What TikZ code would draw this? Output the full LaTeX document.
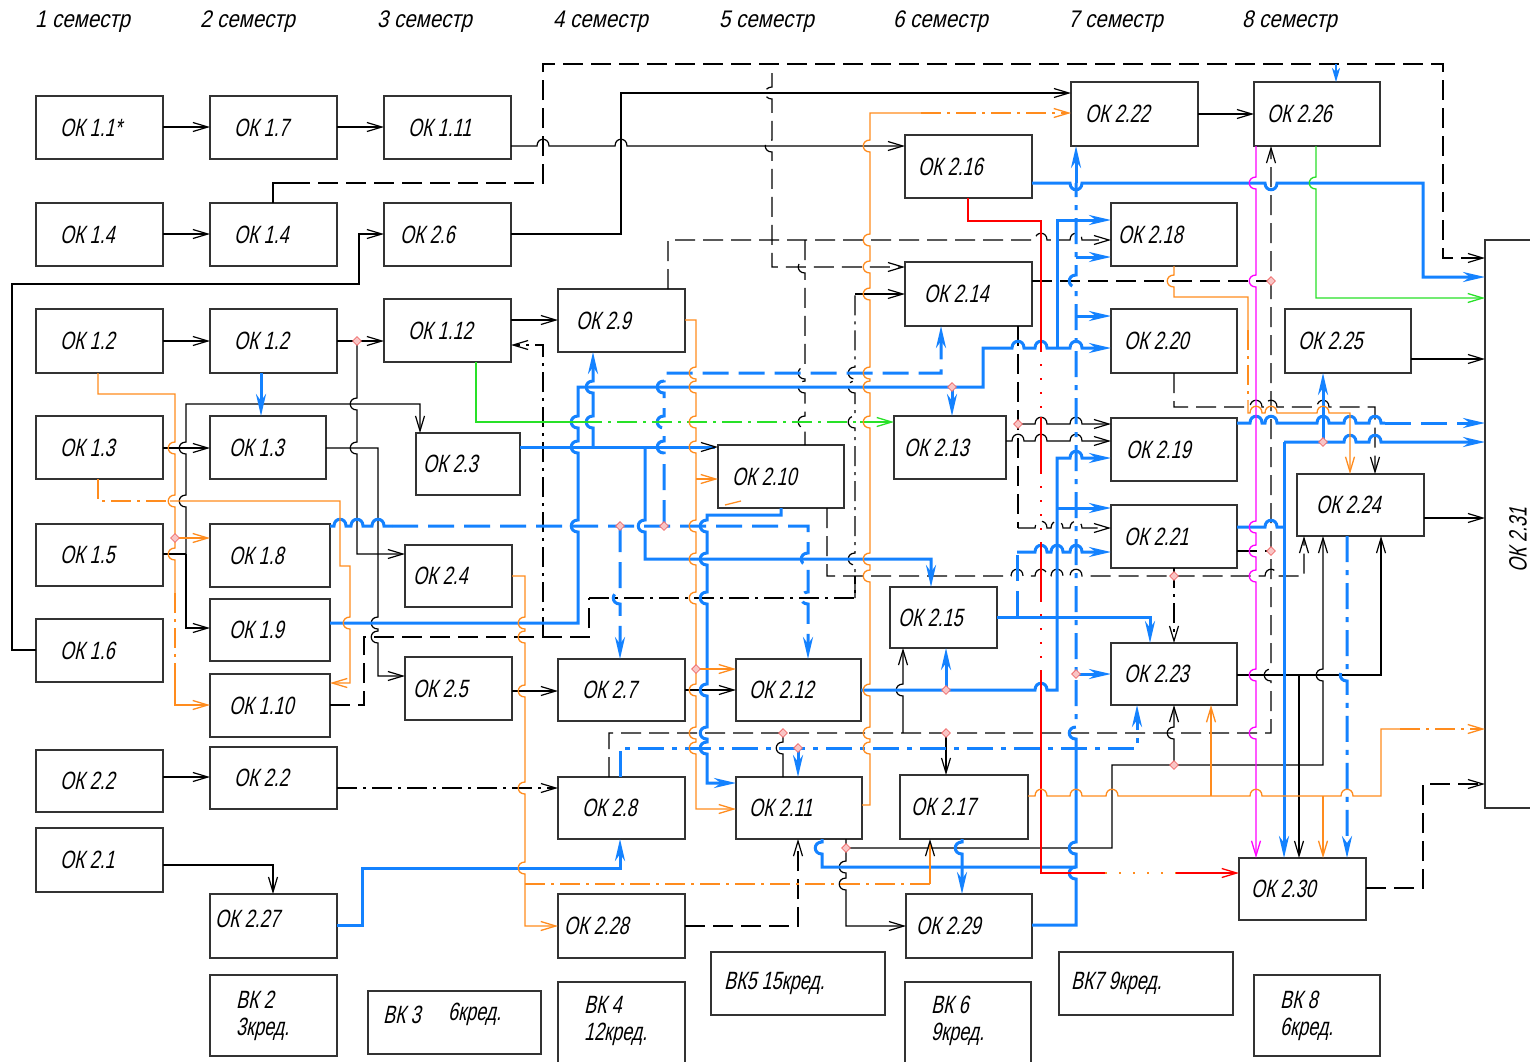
\documentclass[tikz,border=0pt]{standalone}
\usepackage{fontspec}
\newfontfamily\gostbox[FakeStretch=0.72,FakeSlant=0.22]{Liberation Sans}
\newfontfamily\gostsem[FakeStretch=0.85,FakeSlant=0.22]{Liberation Sans}
\usetikzlibrary{arrows.meta,shapes.geometric}
\definecolor{cblue}{RGB}{20,130,255}
\definecolor{corange}{RGB}{255,140,30}
\definecolor{cgreen}{RGB}{40,225,40}
\definecolor{cmag}{RGB}{255,0,255}
\definecolor{cred}{RGB}{255,0,0}
\definecolor{cdot}{RGB}{240,110,110}
\tikzset{
  box/.style={draw=black!80, line width=1.4pt, anchor=north west, inner sep=0pt, outer sep=0pt},
  lbl/.style={font={\gostbox\fontsize{25}{27}\selectfont}, anchor=west, inner sep=0pt, align=left},
  sem/.style={font={\gostsem\fontsize{24}{26}\selectfont}, anchor=west, inner sep=0pt},
  ln/.style={draw=black, line width=1.2pt},
  dsh/.style={dash pattern=on 20pt off 8pt},
  ddot/.style={dash pattern=on 20pt off 6pt on 3pt off 6pt},
  dotd/.style={dash pattern=on 2pt off 12pt},
  ar/.style={-{Straight Barb[length=15pt,width=9pt]}},
  kar/.style={-{Straight Barb[length=15pt,width=9pt,color=black,line width=1.2pt]}},
  bl/.style={draw=cblue, line width=3pt},
  bds/.style={dash pattern=on 26pt off 10pt},
  bdd/.style={dash pattern=on 26pt off 8pt on 5pt off 8pt},
  bar/.style={-{Stealth[length=22pt,width=10pt,inset=7pt]}},
  orl/.style={draw=corange, line width=1.3pt},
  mg/.style={draw=cmag, line width=1.3pt},
  gr/.style={draw=cgreen, line width=1.3pt},
  rdl/.style={draw=cred, line width=1.3pt},
  rdot/.style={diamond, draw=cdot, fill=cdot!40, line width=0.8pt, minimum size=9pt, inner sep=0pt},
  hr/.style 2 args={insert path={-- (#1-6,#2) .. controls (#1-6,#2-9) and (#1+6,#2-9) .. (#1+6,#2)}},
  hrd/.style 2 args={insert path={-- (#1-6,#2) .. controls (#1-6,#2+9) and (#1+6,#2+9) .. (#1+6,#2)}},
  hd/.style 2 args={insert path={-- (#1,#2-6) .. controls (#1-9,#2-6) and (#1-9,#2+6) .. (#1,#2+6)}},
  hu/.style 2 args={insert path={-- (#1,#2+6) .. controls (#1-9,#2+6) and (#1-9,#2-6) .. (#1,#2-6)}},
}
\newcommand\okb[7]{\node[box,minimum width=#4,minimum height=#5] (#1) at (#2,#3) {};
  \node[lbl] (#1t) at ([xshift=#6pt]#1.west) {#7};}
\newcommand\rdt[3]{\node[rdot] (#1) at (#2,#3) {};}
\begin{document}
\begin{tikzpicture}[x=1pt,y=-1pt]
\useasboundingbox (0,0) rectangle (1530,1061);
\fill[white] (0,0) rectangle (1530,1061);

% semester labels
\node[sem] (s1) at (35,22) {1 семестр};
\node[sem] (s2) at (200,22) {2 семестр};
\node[sem] (s3) at (377,22) {3 семестр};
\node[sem] (s4) at (553,22) {4 семестр};
\node[sem] (s5) at (719,22) {5 семестр};
\node[sem] (s6) at (893,22) {6 семестр};
\node[sem] (s7) at (1068,22) {7 семестр};
\node[sem] (s8) at (1242,22) {8 семестр};

% column 1
\okb{ok11s}{36}{96}{127}{63}{24}{ОК 1.1*}
\okb{ok14a}{36}{203}{127}{63}{24}{ОК 1.4}
\okb{ok12a}{36}{309}{127}{64}{24}{ОК 1.2}
\okb{ok13a}{36}{416}{127}{63}{24}{ОК 1.3}
\okb{ok15}{36}{524}{127}{62}{24}{ОК 1.5}
\okb{ok16}{36}{619}{127}{63}{24}{ОК 1.6}
\okb{ok22a}{36}{750}{127}{62}{24}{ОК 2.2}
\okb{ok21}{36}{828}{127}{64}{24}{ОК 2.1}
% column 2
\okb{ok17}{210}{96}{127}{63}{24}{ОК 1.7}
\okb{ok14b}{210}{203}{127}{63}{24}{ОК 1.4}
\okb{ok12b}{210}{309}{127}{64}{24}{ОК 1.2}
\okb{ok13b}{210}{416}{116}{63}{19}{ОК 1.3}
\okb{ok18}{210}{524}{120}{63}{19}{ОК 1.8}
\okb{ok19}{210}{599}{120}{62}{19}{ОК 1.9}
\okb{ok110}{210}{674}{120}{63}{19}{ОК 1.10}
\okb{ok22b}{210}{747}{127}{62}{24}{ОК 2.2}
\node[box,minimum width=127,minimum height=64] (ok227) at (210,894) {};
\node[lbl] (ok227t) at ([xshift=5pt,yshift=7pt]ok227.west) {ОК 2.27};
% column 3
\okb{ok111}{384}{96}{127}{63}{24}{ОК 1.11}
\okb{ok26}{384}{203}{127}{63}{16}{ОК 2.6}
\okb{ok112}{384}{299}{127}{63}{24}{ОК 1.12}
\okb{ok23}{416}{433}{104}{62}{7}{ОК 2.3}
\okb{ok24}{405}{545}{107}{62}{8}{ОК 2.4}
\okb{ok25}{405}{657}{107}{63}{8}{ОК 2.5}
% column 4
\okb{ok29}{558}{289}{127}{63}{18}{ОК 2.9}
\okb{ok27}{558}{659}{127}{62}{24}{ОК 2.7}
\okb{ok28}{558}{777}{127}{62}{24}{ОК 2.8}
\okb{ok228}{558}{894}{127}{64}{6}{ОК 2.28}
% column 5
\okb{ok210}{718}{445}{126}{63}{14}{ОК 2.10}
\okb{ok212}{736}{659}{125}{62}{13}{ОК 2.12}
\okb{ok211}{736}{777}{126}{62}{13}{ОК 2.11}
% column 6
\okb{ok216}{905}{135}{127}{63}{13}{ОК 2.16}
\okb{ok214}{905}{262}{127}{64}{19}{ОК 2.14}
\okb{ok213}{894}{416}{112}{63}{10}{ОК 2.13}
\okb{ok215}{890}{587}{107}{61}{8}{ОК 2.15}
\okb{ok217}{900}{775}{128}{64}{11}{ОК 2.17}
\okb{ok229}{906}{894}{126}{64}{10}{ОК 2.29}
% column 7
\okb{ok222}{1071}{82}{127}{64}{14}{ОК 2.22}
\okb{ok218}{1111}{203}{126}{63}{7}{ОК 2.18}
\okb{ok220}{1111}{309}{126}{64}{13}{ОК 2.20}
\okb{ok219}{1111}{418}{126}{63}{15}{ОК 2.19}
\okb{ok221}{1111}{505}{126}{63}{13}{ОК 2.21}
\okb{ok223}{1111}{643}{126}{62}{13}{ОК 2.23}
% column 8
\okb{ok226}{1254}{82}{126}{64}{13}{ОК 2.26}
\okb{ok225}{1285}{309}{126}{64}{13}{ОК 2.25}
\okb{ok224}{1297}{474}{127}{62}{19}{ОК 2.24}
\okb{ok230}{1239}{858}{127}{62}{12}{ОК 2.30}
\node[box,minimum width=70,minimum height=568] (ok231) at (1485,240) {};
\node[lbl,rotate=90,anchor=center] (ok231t) at (1518,540) {ОК 2.31};
% elective boxes
\okb{vk2}{210}{975}{127}{81}{26}{ВК 2\\3кред.}
\node[box,minimum width=173,minimum height=63] (vk3) at (368,991) {};
\node[lbl] (vk3t) at ([xshift=15pt,yshift=8pt]vk3.west) {ВК 3};
\node[lbl] (vk3u) at ([xshift=80pt,yshift=8pt]vk3.west) {6кред.};
\node[box,minimum width=127,minimum height=90] (vk4) at (558,982) {};
\node[lbl] (vk4t) at ([xshift=26pt,yshift=-14pt]vk4.north west) [anchor=north west] {ВК 4\\12кред.};
\okb{vk5}{711}{952}{174}{63}{13}{ВК5 15кред.}
\node[box,minimum width=126,minimum height=90] (vk6) at (905,982) {};
\node[lbl] (vk6t) at ([xshift=26pt,yshift=-14pt]vk6.north west) [anchor=north west] {ВК 6\\9кред.};
\okb{vk7}{1059}{952}{174}{63}{12}{ВК7 9кред.}
\okb{vk8}{1254}{975}{126}{81}{26}{ВК 8\\6кред.}

% ---------------- black connectors
\draw[ln,ar] (ok11s.east|-0,127) -- (ok17.west|-0,127);
\draw[ln,ar] (ok17.east|-0,127) -- (ok111.west|-0,127);
\draw[ln,ar] (ok111.east|-0,146) [hr={543}{146}] [hr={621}{146}] -- (ok216.west|-0,146);
\draw[ln,ar] (ok14a.east|-0,234) -- (ok14b.west|-0,234);
\draw[ln,ar] (ok26.east|-0,234) -- (621,234) -- (621,93) -- (ok222.west|-0,93);
\draw[ln,ar] (ok16.west|-0,650) -- (12,650) -- (12,284) -- (359,284) -- (359,234) -- (ok26.west|-0,234);
\draw[ln,ar] (ok12a.east|-0,341) -- (ok12b.west|-0,341);
\draw[ln,ar] (ok12b.east|-0,341) -- (ok112.west|-0,341);
\draw[ln,ar] (357,341) [hd={357}{404}] [hd={357}{448}] -- (357,554) -- (ok24.west|-0,554);
\draw[ln,ar] (ok112.east|-0,320) -- (ok29.west|-0,320);
\draw[ln,ddot,ar] (543,637) -- (543,345) -- (ok112.east|-0,345);
\draw[ln,ar] (ok13a.east|-0,448) -- (ok13b.west|-0,448);
\draw[ln] (ok15.east|-0,554) -- (186,554);
\draw[ln,ar] (186,554) [hu={186}{501}] [hu={186}{448}] -- (186,404) -- (420,404) -- (420,0|-ok23.north);
\draw[ln,ar] (186,554) -- (186,628) -- (ok19.west|-0,628);
\draw[ln,ar] (ok13b.east|-0,448) -- (378,448) [hd={378}{623}] [hd={378}{637}] -- (378,676) -- (ok25.west|-0,676);
\draw[ln,ar] (ok25.east|-0,691) -- (ok27.west|-0,691);
\draw[ln,ar] (ok27.east|-0,690) -- (ok212.west|-0,690);
\draw[ln,ar] (ok22a.east|-0,777) -- (ok22b.west|-0,777);
\draw[ln,ddot,ar] (ok22b.east|-0,788) -- (ok28.west|-0,788);
\draw[ln,ar] (ok21.east|-0,865) -- (273,865) -- (273,0|-ok227.north);
\draw[ln,dsh,ar] (ok228.east|-0,926) -- (798,926) -- (798,0|-ok211.south);
\draw[ln,ar] (846,0|-ok211.south) [hd={846}{867}] [hd={846}{884}] -- (846,926) -- (ok229.west|-0,926);
\draw[ln,ar] (846,848) -- (1112,848) -- (1112,765) -- (1323,765) [hu={1323}{675}] -- (1323,0|-ok224.south);
\draw[ln,ar] (1174,765) [hu={1174}{733}] -- (1174,0|-ok223.south);
\draw[ln,dsh,ar] (609,0|-ok28.north) -- (609,733) -- (1271,733) [hu={1271}{675}] -- (1271,0|-ok226.south);
\draw[ln] (783,733) [hd={783}{748}] -- (783,0|-ok211.north);
\draw[ln,ar] (946,733) -- (946,0|-ok217.north);
\draw[ln,ar] (903,733) [hu={903}{690}] -- (903,0|-ok215.south);
\draw[ln] (273,0|-ok14b.north) -- (273,183) -- (290,183);
\draw[ln,dsh,ar] (290,183) -- (543,183) -- (543,64) -- (1443,64) -- (1443,258) -- (ok231.west|-0,258);
\draw[ln,dsh,ar] (772,73) [hd={772}{93}] [hd={772}{146}] -- (772,267) -- (ok214.west|-0,267);
\draw[ln,dsh,ar] (668,0|-ok29.north) -- (668,240) [hr={1041}{240}] [hr={1076}{240}] -- (ok218.west|-0,240);
\draw[ln,dsh] (805,240) [hd={805}{267}] [hd={805}{373}] [hd={805}{387}] [hd={805}{422}] -- (805,0|-ok210.north);
\draw[ln,ddot] (855,598) [hu={855}{559}] [hu={855}{422}] [hu={855}{387}] [hu={855}{373}] -- (855,294);
\draw[ln,ar] (855,294) -- (ok214.west|-0,294);
\draw[ln,dsh,ar] (827,0|-ok210.south) -- (827,576) [hr={1017}{576}] [hr={1041}{576}] [hr={1057}{576}] [hr={1076}{576}] [hr={1271}{576}] -- (1304,576) -- (1304,0|-ok224.south);
\draw[ln,dsh] (ok110.east|-0,705) -- (364,705) -- (364,637) -- (589,637) -- (589,598);
\draw[ln,ddot] (589,598) -- (855,598) -- (855,576);
\draw[ln,dsh] (1018,0|-ok214.south) -- (1018,528);
\draw[ln,dsh,ar] (1018,528) [hr={1041}{528}] [hr={1057}{528}] [hr={1076}{528}] -- (ok221.west|-0,528);
\draw[ln,ar] (1018,424) [hr={1041}{424}] [hr={1076}{424}] -- (ok219.west|-0,424);
\draw[ln,ar] (ok213.east|-0,441) [hr={1018}{441}] [hr={1041}{441}] [hr={1076}{441}] -- (ok219.west|-0,441);
\draw[ln,dsh] (ok214.east|-0,281) -- (1271,281);
\draw[ln,dsh] (ok221.east|-0,551) -- (1271,551);
\draw[ln,dsh,ar] (1174,0|-ok220.south) -- (1174,407) [hr={1256}{407}] [hr={1271}{407}] [hr={1323}{407}] -- (1375,407) -- (1375,0|-ok224.north);
\draw[ln,ar] (ok224.east|-0,518) -- (ok231.west|-0,518);
\draw[ln,ar] (ok225.east|-0,359) -- (ok231.west|-0,359);
\draw[ln,ar] (ok222.east|-0,114) -- (ok226.west|-0,114);
\draw[ln,ar] (ok223.east|-0,675) -- (1381,675) -- (1381,0|-ok224.south);
\draw[ln,ar] (1299,675) -- (1299,0|-ok230.north);
\draw[ln,ddot,ar] (1174,0|-ok221.south) -- (1174,0|-ok223.north);
\draw[ln,dsh,ar] (ok230.east|-0,888) -- (1423,888) -- (1423,784) -- (ok231.west|-0,784);

% ---------------- blue connectors
\draw[bl,bar] (261,0|-ok12b.south) -- (261,0|-ok13b.north);
\draw[bl,kar] (ok23.east|-0,447) -- (ok210.west|-0,447);
\draw[bl,bar] (593,447) [hu={593}{422}] [hu={593}{387}] -- (593,0|-ok29.south);
\draw[bl,bar] (645,447) [hd={645}{526}] -- (645,559) -- (931,559) -- (931,0|-ok215.north);
\draw[bl,bar] (ok19.east|-0,623) -- (578,623) [hu={578}{526}] [hu={578}{447}] [hu={578}{422}] -- (578,387) -- (983,387) -- (983,348) [hr={1018}{348}] [hr={1041}{348}] [hr={1076}{348}] -- (ok220.west|-0,348);
\draw[bl,bar] (952,387) -- (952,0|-ok213.north);
\draw[bl,bar] (1057,348) -- (1057,220) -- (ok218.west|-0,220);
\draw[bl,bar] (ok216.east|-0,183) [hrd={1076}{183}] [hrd={1271}{183}] -- (1423,183) -- (1423,277) -- (ok231.west|-0,277);
\draw[bl,bar] (1076,183) -- (1076,0|-ok222.south);
\draw[bl,bdd] (1076,745) [hu={1076}{733}] [hu={1076}{281}] -- (1076,183);
\draw[bl] (ok229.east|-0,925) -- (1076,925) [hu={1076}{873}] [hu={1076}{848}] -- (1076,745);
\draw[bl,bar] (1076,257) -- (ok218.west|-0,257);
\draw[bl,bar] (1076,316) -- (ok220.west|-0,316);
\draw[bl,bar] (1076,674) -- (ok223.west|-0,674);
\draw[bl] (822,0|-ok211.south) [hd={822}{848}] -- (822,867) -- (1076,867);
\draw[bl,bar] (ok212.east|-0,690) [hr={1041}{690}] -- (1057,690) -- (1057,458) [hr={1076}{458}] -- (ok219.west|-0,458);
\draw[bl,bar] (1057,508) -- (ok221.west|-0,508);
\draw[bl,bar] (946,690) -- (946,0|-ok215.south);
\draw[bl] (ok18.east|-0,526) [hr={340}{526}] [hr={357}{526}] [hr={378}{526}] -- (392,526);
\draw[bl,bds,bar] (392,526) -- (808,526) [hd={808}{559}] [hd={808}{598}] -- (808,0|-ok212.north);
\draw[bl,bds,bar] (620,526) [hd={620}{598}] -- (620,0|-ok27.north);
\draw[bl,bds,bar] (664,526) [hu={664}{447}] [hu={664}{422}] [hu={664}{387}] -- (664,373) -- (941,373) -- (941,0|-ok214.south);
\draw[bl,bar] (781,0|-ok210.south) -- (781,515) -- (707,515) [hd={707}{526}] [hd={707}{559}] [hd={707}{598}] [hd={707}{690}] [hd={707}{733}] [hd={707}{748}] -- (707,783) -- (ok211.west|-0,783);
\draw[bl,bdd,bar] (620,0|-ok28.north) -- (620,748) -- (1137,748) -- (1137,0|-ok223.south);
\draw[bl,bdd,bar] (798,748) -- (798,0|-ok211.north);
\draw[bl,bar] (ok227.east|-0,925) -- (362,925) -- (362,868) -- (620,868) -- (620,0|-ok28.south);
\draw[bl,bar] (962,0|-ok217.south) [hd={962}{848}] -- (962,0|-ok229.north);
\draw[bl,bar] (ok215.east|-0,617) -- (1150,617) -- (1150,0|-ok223.north);
\draw[bl,bds] (1017,617) -- (1017,552);
\draw[bl,bar] (1017,552) [hr={1041}{552}] [hr={1057}{552}] [hr={1076}{552}] -- (ok221.west|-0,552);
\draw[bl] (ok219.east|-0,423) [hr={1256}{423}] [hr={1271}{423}] [hr={1323}{423}] [hr={1350}{423}] [hr={1375}{423}] -- (1385,423);
\draw[bl,bds,bar] (1385,423) -- (ok231.west|-0,423);
\draw[bl,bar] (1284,442) [hr={1350}{442}] [hr={1375}{442}] -- (ok231.west|-0,442);
\draw[bl,bar] (1284,442) -- (1284,0|-ok230.north);
\draw[bl] (ok221.east|-0,527) [hr={1271}{527}] -- (1284,527);
\draw[bl,bar] (1323,442) -- (1323,0|-ok225.south);
\draw[bl,bdd,bar] (1347,0|-ok224.south) [hd={1347}{675}] -- (1347,0|-ok230.north);
\draw[bl,line width=2pt,-{Stealth[length=14pt,width=8pt,inset=4pt]}] (1336,64) -- (1336,0|-ok226.north);

% ---------------- magenta, green, red
\draw[mg,ar] (1256,0|-ok226.south) [hd={1256}{183}] [hd={1256}{281}] [hd={1256}{527}] [hd={1256}{551}] [hd={1256}{576}] [hd={1256}{675}] [hd={1256}{733}] -- (1256,0|-ok230.north);
\draw[gr,ar] (1316,0|-ok226.south) [hd={1316}{183}] -- (1316,298) -- (ok231.west|-0,298);
\draw[gr] (476,0|-ok112.south) -- (476,422) -- (582,422);
\draw[gr,ddot] (582,422) -- (860,422);
\draw[gr,ar] (860,422) -- (ok213.west|-0,422);
\draw[rdl] (968,0|-ok216.south) -- (968,221) -- (1041,221) -- (1041,350);
\draw[rdl,dotd] (1041,350) -- (1041,417);
\draw[rdl] (1041,417) -- (1041,472);
\draw[rdl,dotd] (1041,472) -- (1041,543);
\draw[rdl] (1041,543) -- (1041,600);
\draw[rdl,dotd] (1041,600) -- (1041,670);
\draw[rdl] (1041,670) -- (1041,873) -- (1105,873);
\draw[orl,dotd] (1105,873) -- (1176,873);
\draw[rdl,ar] (1176,873) -- (ok230.west|-0,873);

% ---------------- orange
\draw[orl] (98,0|-ok12a.south) -- (98,394) -- (175,394) [hd={175}{448}] [hd={175}{501}] [hd={175}{554}] -- (175,593);
\draw[orl,ddot] (175,593) -- (175,680);
\draw[orl,ar] (175,680) -- (175,705) -- (ok110.west|-0,705);
\draw[orl,ar] (175,538) -- (ok18.west|-0,538);
\draw[orl,ddot] (98,0|-ok13a.south) -- (98,501) -- (170,501);
\draw[orl,ar] (170,501) -- (340,501) -- (340,566) -- (350,566) [hd={350}{623}] -- (350,683) -- (ok110.east|-0,683);
\draw[orl,ar] (ok24.east|-0,576) -- (525,576) [hd={525}{623}] [hd={525}{637}] [hd={525}{691}] [hd={525}{788}] [hd={525}{868}] -- (525,926) -- (ok228.west|-0,926);
\draw[orl,ddot] (525,884) -- (930,884);
\draw[orl,kar] (930,884) -- (930,0|-ok217.south);
\draw[orl,ar] (ok29.east|-0,320) -- (696,320) [hd={696}{373}] [hd={696}{387}] [hd={696}{422}] [hd={696}{447}] [hd={696}{526}] [hd={696}{559}] [hd={696}{598}] [hd={696}{690}] [hd={696}{733}] [hd={696}{748}] -- (696,809) -- (ok211.west|-0,809);
\draw[orl,ar] (696,669) -- (ok212.west|-0,669);
\draw[orl,ar] (696,479) -- (ok210.west|-0,479);
\draw[orl] (725,505) -- (741,501);
\draw[orl] (ok211.east|-0,805) -- (870,805) [hu={870}{748}] [hu={870}{733}] [hu={870}{690}] [hu={870}{576}] [hu={870}{559}] [hu={870}{422}] [hu={870}{387}] [hu={870}{373}] [hu={870}{294}] [hu={870}{267}] [hu={870}{240}] [hu={870}{146}] -- (870,113) -- (921,113);
\draw[orl,ddot,ar] (921,113) -- (ok222.west|-0,113);
\draw[orl] (ok217.east|-0,796) [hr={1041}{796}] [hr={1076}{796}] [hr={1112}{796}] [hr={1256}{796}] [hr={1347}{796}] -- (1381,796) -- (1381,729) -- (1400,729);
\draw[orl,ddot,ar] (1400,729) -- (ok231.west|-0,729);
\draw[orl,ar] (1211,796) -- (1211,0|-ok223.south);
\draw[orl,ar] (1323,796) -- (1323,0|-ok230.north);
\draw[orl] (1174,0|-ok218.south) [hd={1174}{281}] -- (1174,297) -- (1248,297) -- (1248,330);
\draw[orl,ddot] (1248,330) -- (1248,400);
\draw[orl,ar] (1248,400) -- (1248,413) [hr={1256}{413}] [hr={1271}{413}] [hr={1323}{413}] -- (1350,413) -- (1350,0|-ok224.north);

% ---------------- junction marks
\rdt{d1}{357}{341}
\rdt{d2}{175}{538}
\rdt{d3}{620}{526}
\rdt{d4}{664}{526}
\rdt{d5}{952}{387}
\rdt{d6}{696}{669}
\rdt{d7}{783}{733}
\rdt{d8}{798}{748}
\rdt{d9}{946}{733}
\rdt{d10}{946}{690}
\rdt{d11}{846}{848}
\rdt{d12}{1018}{424}
\rdt{d13}{1271}{281}
\rdt{d14}{1271}{551}
\rdt{d15}{1174}{576}
\rdt{d16}{1076}{674}
\rdt{d17}{1174}{765}
\rdt{d18}{1323}{442}
\end{tikzpicture}
\end{document}
